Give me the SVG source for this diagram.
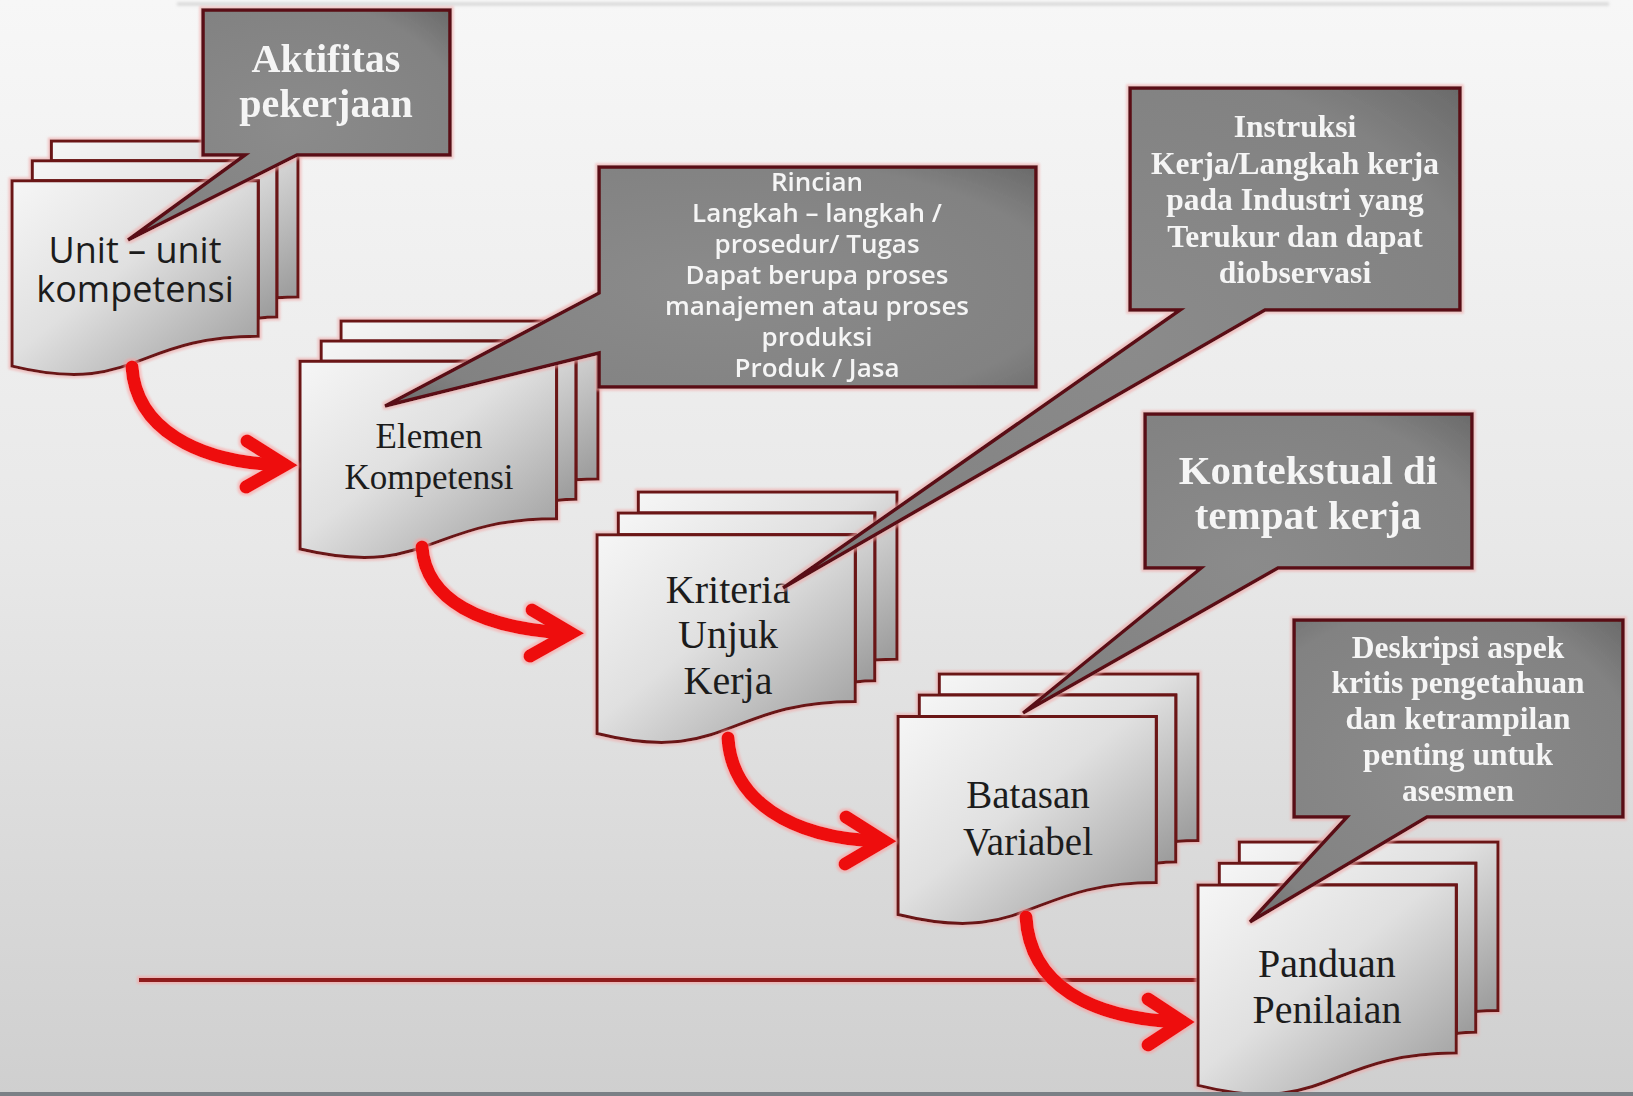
<svg xmlns="http://www.w3.org/2000/svg" xmlns:xlink="http://www.w3.org/1999/xlink" width="1633" height="1096" viewBox="0 0 1633 1096">
<defs>
  <linearGradient id="bgGrad" x1="0" y1="0" x2="0" y2="1">
    <stop offset="0" stop-color="#f7f7f7"/>
    <stop offset="0.5" stop-color="#e8e8e8"/>
    <stop offset="1" stop-color="#cfcfcf"/>
  </linearGradient>
  <linearGradient id="pgGrad" x1="0" y1="0" x2="1" y2="1">
    <stop offset="0" stop-color="#f6f6f6"/>
    <stop offset="0.45" stop-color="#e0e0e0"/>
    <stop offset="1" stop-color="#9a9a9a"/>
  </linearGradient>
  <radialGradient id="coGrad" cx="0.5" cy="0.5" r="0.72">
    <stop offset="0" stop-color="#8b8b8b"/>
    <stop offset="0.75" stop-color="#828282"/>
    <stop offset="1" stop-color="#686868"/>
  </radialGradient>
  <filter id="glow" x="-5%" y="-5%" width="110%" height="110%">
    <feMorphology in="SourceAlpha" operator="dilate" radius="2.2" result="d"/>
    <feGaussianBlur in="d" stdDeviation="1.2" result="b"/>
    <feFlood flood-color="#f0a8a8" flood-opacity="0.6"/>
    <feComposite in2="b" operator="in" result="g"/>
    <feMerge><feMergeNode in="g"/><feMergeNode in="SourceGraphic"/></feMerge>
  </filter>
  <filter id="rglow" filterUnits="userSpaceOnUse" x="0" y="0" width="1633" height="1096">
    <feMorphology in="SourceAlpha" operator="dilate" radius="1.5" result="d"/>
    <feGaussianBlur in="d" stdDeviation="1" result="b"/>
    <feFlood flood-color="#ff9a9a" flood-opacity="0.55"/>
    <feComposite in2="b" operator="in" result="g"/>
    <feMerge><feMergeNode in="g"/><feMergeNode in="SourceGraphic"/></feMerge>
  </filter>
  <filter id="soft" filterUnits="userSpaceOnUse" x="0" y="0" width="1633" height="20">
    <feGaussianBlur stdDeviation="1.5"/>
  </filter>
  <path id="pg3" vector-effect="non-scaling-stroke" d="M13.76,8.4 L13.76,0 L100,0 L100,66.63 C96.3,66.63 92.59,66.98 92.59,66.98 L92.59,8.4 Z"/>
  <path id="pg2" vector-effect="non-scaling-stroke" d="M7.09,17.01 L7.09,8.4 L92.59,8.4 L92.59,75.24 C89.34,75.24 86.09,75.7 86.09,75.7 L86.09,17.01 Z"/>
  <path id="pg1" vector-effect="non-scaling-stroke" d="M0,96.21 C43.05,108.99 43.05,83.44 86.09,83.44 L86.09,17.01 L0,17.01 Z"/>
</defs>
<style>
  .pg { fill: url(#pgGrad); stroke: #6a1317; stroke-width: 3; stroke-linejoin: miter; }
  .co { fill: url(#coGrad); stroke: #5a0e12; stroke-width: 3.5; stroke-linejoin: miter; }
  .cb { font-family: "Liberation Serif", "Times New Roman", serif; font-weight: bold; fill: #f5f5f5; text-anchor: middle; }
  .cs { font-family: "Open Sans", "Noto Sans", sans-serif; font-weight: 600; fill: #f5f5f5; text-anchor: middle; font-size: 26px; }
  .ns { font-family: "Open Sans", "Noto Sans", sans-serif; fill: #1c1c1c; text-anchor: middle; }
  .nr { font-family: "Liberation Serif", "Times New Roman", serif; fill: #1c1c1c; text-anchor: middle; }
  .arr { fill: none; stroke: #ee1111; stroke-width: 13; stroke-linecap: round; }
  .head { fill: none; stroke: #ee1111; stroke-width: 13; stroke-linecap: round; stroke-linejoin: miter; stroke-miterlimit: 10; }
</style>

<rect x="0" y="0" width="1633" height="1096" fill="url(#bgGrad)"/>
<line x1="177" y1="4" x2="1609" y2="4" stroke="#d4d4d4" stroke-width="3" filter="url(#soft)"/>

<!-- baseline -->
<g id="baseline" filter="url(#rglow)">
  <line x1="139" y1="980" x2="1198" y2="980" stroke="#8e1a1e" stroke-width="4"/>
</g>

<!-- nodes -->
<g id="node-unit">
  <g filter="url(#glow)"><g transform="translate(12,141) scale(2.86,2.34)">
    <use xlink:href="#pg3" class="pg"/><use xlink:href="#pg2" class="pg"/><use xlink:href="#pg1" class="pg"/>
  </g></g>
  <text class="ns" font-size="36" x="135" y="263">Unit – unit</text>
  <text class="ns" font-size="36" x="135" y="302">kompetensi</text>
</g>
<g id="node-elemen">
  <g filter="url(#glow)"><g transform="translate(300,321) scale(2.98,2.37)">
    <use xlink:href="#pg3" class="pg"/><use xlink:href="#pg2" class="pg"/><use xlink:href="#pg1" class="pg"/>
  </g></g>
  <text class="nr" font-size="35" x="429" y="448">Elemen</text>
  <text class="nr" font-size="35" x="429" y="489">Kompetensi</text>
</g>
<g id="node-kriteria">
  <g filter="url(#glow)"><g transform="translate(597,492) scale(3,2.51)">
    <use xlink:href="#pg3" class="pg"/><use xlink:href="#pg2" class="pg"/><use xlink:href="#pg1" class="pg"/>
  </g></g>
  <text class="nr" font-size="40" x="728" y="603">Kriteria</text>
  <text class="nr" font-size="40" x="728" y="648">Unjuk</text>
  <text class="nr" font-size="40" x="728" y="694">Kerja</text>
</g>
<g id="node-batasan">
  <g filter="url(#glow)"><g transform="translate(898,674) scale(3,2.5)">
    <use xlink:href="#pg3" class="pg"/><use xlink:href="#pg2" class="pg"/><use xlink:href="#pg1" class="pg"/>
  </g></g>
  <text class="nr" font-size="39" x="1028" y="808">Batasan</text>
  <text class="nr" font-size="39" x="1028" y="855">Variabel</text>
</g>
<g id="node-panduan">
  <g filter="url(#glow)"><g transform="translate(1198,842) scale(3,2.53)">
    <use xlink:href="#pg3" class="pg"/><use xlink:href="#pg2" class="pg"/><use xlink:href="#pg1" class="pg"/>
  </g></g>
  <text class="nr" font-size="40" x="1327" y="977">Panduan</text>
  <text class="nr" font-size="40" x="1327" y="1023">Penilaian</text>
</g>

<!-- connectors -->
<g id="connectors" filter="url(#rglow)">
  <path class="arr" d="M132,367 C136,428 196,462 280,465"/>
  <path class="head" d="M247,441 L285,465 L246,487"/>
  <path class="arr" d="M422,547 C426,600 480,628 566,633"/>
  <path class="head" d="M532,610 L571,633 L530,656"/>
  <path class="arr" d="M728,738 C732,800 790,838 878,841"/>
  <path class="head" d="M846,817 L884,841 L845,864"/>
  <path class="arr" d="M1026,917 C1030,985 1090,1018 1178,1022"/>
  <path class="head" d="M1148,999 L1183,1022 L1148,1045"/>
</g>

<!-- callouts -->
<g id="callout-aktifitas" filter="url(#glow)">
  <path class="co" d="M203,10 H450 V155 H297 L128,240 L245,155 H203 Z"/>
  <text class="cb" font-size="40" x="326" y="72">Aktifitas</text>
  <text class="cb" font-size="40" x="326" y="117">pekerjaan</text>
</g>
<g id="callout-rincian" filter="url(#glow)">
  <path class="co" d="M599,167 H1036 V387 H599 V353 L385,406 L599,293 Z"/>
  <text class="cs" x="817" y="191">Rincian</text>
  <text class="cs" x="817" y="222">Langkah – langkah /</text>
  <text class="cs" x="817" y="253">prosedur/ Tugas</text>
  <text class="cs" x="817" y="284">Dapat berupa proses</text>
  <text class="cs" x="817" y="315">manajemen atau proses</text>
  <text class="cs" x="817" y="346">produksi</text>
  <text class="cs" x="817" y="377">Produk / Jasa</text>
</g>
<g id="callout-instruksi" filter="url(#glow)">
  <path class="co" d="M1130,88 H1460 V310 H1265 L783,588 L1180,310 H1130 Z"/>
  <text class="cb" font-size="31.5" x="1295" y="137">Instruksi</text>
  <text class="cb" font-size="31.5" x="1295" y="174">Kerja/Langkah kerja</text>
  <text class="cb" font-size="31.5" x="1295" y="210">pada Industri yang</text>
  <text class="cb" font-size="31.5" x="1295" y="247">Terukur dan dapat</text>
  <text class="cb" font-size="31.5" x="1295" y="283">diobservasi</text>
</g>
<g id="callout-kontekstual" filter="url(#glow)">
  <path class="co" d="M1145,414 H1472 V568 H1278 L1023,713 L1201,568 H1145 Z"/>
  <text class="cb" font-size="41" x="1308" y="484">Kontekstual di</text>
  <text class="cb" font-size="41" x="1308" y="529">tempat kerja</text>
</g>
<g id="callout-deskripsi" filter="url(#glow)">
  <path class="co" d="M1294,620 H1623 V817 H1427 L1250,922 L1347,817 H1294 Z"/>
  <text class="cb" font-size="31.5" x="1458" y="658">Deskripsi aspek</text>
  <text class="cb" font-size="31.5" x="1458" y="693">kritis pengetahuan</text>
  <text class="cb" font-size="31.5" x="1458" y="729">dan ketrampilan</text>
  <text class="cb" font-size="31.5" x="1458" y="765">penting untuk</text>
  <text class="cb" font-size="31.5" x="1458" y="801">asesmen</text>
</g>

<rect x="0" y="1092" width="1633" height="4" fill="#7b8086"/>
</svg>
